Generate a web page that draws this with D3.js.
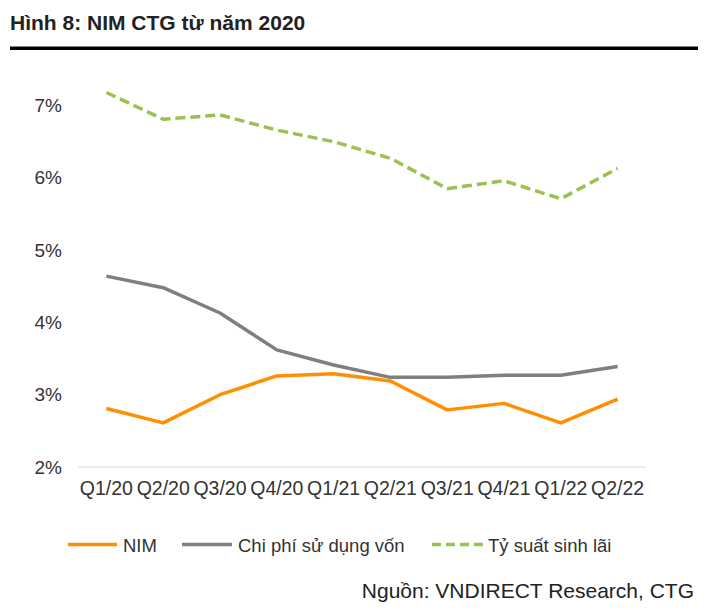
<!DOCTYPE html>
<html><head><meta charset="utf-8">
<script src="https://cdn.jsdelivr.net/npm/d3@7"></script>
<style>body{margin:0;background:#fff}svg{display:block}text{font-family:"Liberation Sans",Arial,sans-serif}</style>
</head><body>
<script>
const categories = ["Q1/20","Q2/20","Q3/20","Q4/20","Q1/21","Q2/21","Q3/21","Q4/21","Q1/22","Q2/22"];
const nim = [2.81,2.61,3.00,3.26,3.29,3.19,2.79,2.88,2.61,2.94];
const chiPhi = [4.64,4.48,4.13,3.62,3.41,3.24,3.24,3.27,3.27,3.39];
const tySuat = [7.18,6.81,6.87,6.66,6.50,6.27,5.85,5.96,5.71,6.13];
const yTicks = [2,3,4,5,6,7];
const seriesNames = ["NIM","Chi phí sử dụng vốn","Tỷ suất sinh lãi"];
const colors = ["#ff8f00","#7f7f7f","#9bc152"];

const W=710,H=610;
const svg=d3.select("body").append("svg").attr("width",W).attr("height",H);

svg.append("text").attr("x",10).attr("y",30).attr("font-size",21).attr("font-weight","bold").attr("fill","#222")
  .text("Hình 8: NIM CTG từ năm 2020");
svg.append("rect").attr("x",10).attr("y",46.5).attr("width",688).attr("height",3.5).attr("fill","#000");

const x=d3.scaleBand().domain(categories).range([78,646]);
const y=d3.scaleLinear().domain([2,7]).range([467,105.5]);

// y tick labels
svg.append("g").selectAll("text").data(yTicks).join("text")
  .attr("x",62).attr("y",d=>y(d)).attr("dy","0.35em").attr("text-anchor","end")
  .attr("font-size",19).attr("fill","#333").text(d=>d+"%");

// baseline
svg.append("line").attr("x1",78).attr("x2",646).attr("y1",y(2)).attr("y2",y(2)).attr("stroke","#d9d9d9").attr("stroke-width",1.2);

// x labels
svg.append("g").selectAll("text").data(categories).join("text")
  .attr("x",d=>x(d)+x.bandwidth()/2).attr("y",495).attr("text-anchor","middle")
  .attr("font-size",19.5).attr("fill","#333").text(d=>d);

const line=d3.line().x((d,i)=>x(categories[i])+x.bandwidth()/2).y(d=>y(d));
const data=[nim,chiPhi,tySuat];
const dashes=[null,null,"10,5"];
data.forEach((s,k)=>{
  svg.append("path").attr("d",line(s)).attr("fill","none").attr("stroke",colors[k])
    .attr("stroke-width",3.5).attr("stroke-linejoin","round")
    .attr("stroke-dasharray",dashes[k]);
});

// legend
const leg=[{x1:68,x2:117,tx:123},{x1:182,x2:232,tx:238},{x1:432,x2:485,tx:488}];
leg.forEach((l,k)=>{
  svg.append("line").attr("x1",l.x1).attr("x2",l.x2).attr("y1",544.5).attr("y2",544.5)
    .attr("stroke",colors[k]).attr("stroke-width",3.5).attr("stroke-dasharray",dashes[k]?"9,5":null);
  svg.append("text").attr("x",l.tx).attr("y",551.5).attr("font-size",18.5).attr("fill","#333").text(seriesNames[k]);
});

svg.append("text").attr("x",694).attr("y",598).attr("text-anchor","end").attr("font-size",21).attr("fill","#222")
  .text("Nguồn: VNDIRECT Research, CTG");
</script>
</body></html>
